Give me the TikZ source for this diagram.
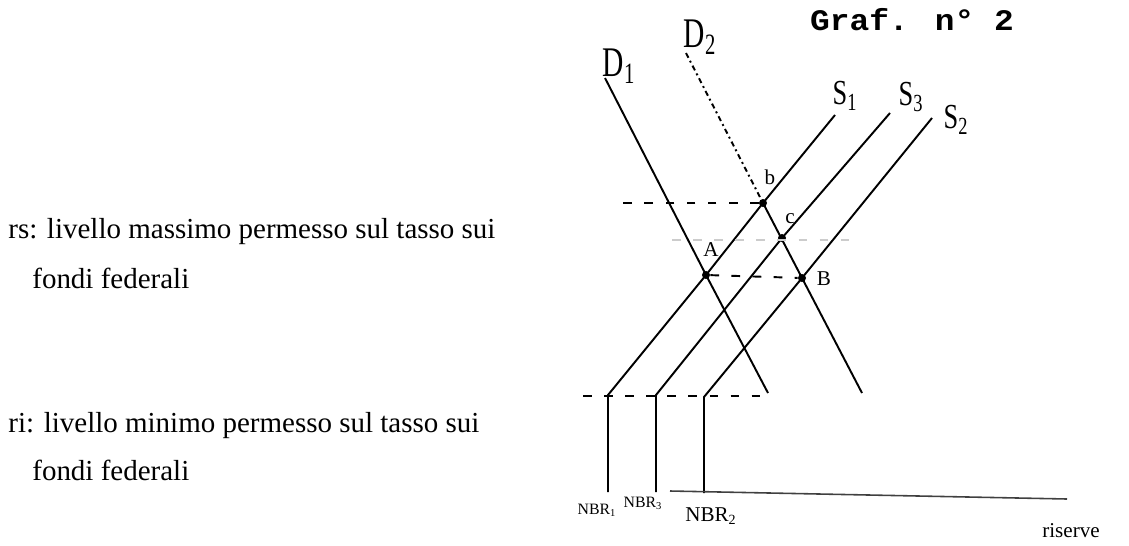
\documentclass[tikz,border=0pt]{standalone}
\usepackage{fontspec}
\setmainfont{Liberation Serif}
\newfontfamily\typefont{Liberation Mono}
\usepackage{tikz}
\usetikzlibrary{positioning}

\begin{document}
\begin{tikzpicture}[
        x=0.02cm, y=-0.02cm,
        every node/.style={inner sep=0pt},
        note/.style={anchor=base west, font=\fontsize{16.5}{20}\selectfont},
        curve/.style={line width=1.1pt},
        guide/.style={line width=1.1pt, dash pattern=on 5pt off 7pt},
        axisline/.style={line width=0.9pt, black!75},
        pt/.style={circle, fill, minimum size=0.16cm},
        hand/.style={font=\fontsize{20}{20}\selectfont},
        lbl/.style={font=\fontsize{12}{12}\selectfont}
        ]
        \useasboundingbox (0,0) rectangle (1129,545);

        % notes on the left
        \node[note] (rs) at (8,238) {rs: livello massimo permesso sul tasso sui};
        \node[note] (rsb) at (32,288) {fondi federali};
        \node[note] (ri) at (8,432) {ri: livello minimo permesso sul tasso sui};
        \node[note] (rib) at (32,480) {fondi federali};

        % equilibrium points
        \node[pt] (A) at (706,275) {};
        \node[pt] (b) at (763,203) {};
        \node[pt] (c) at (782,238) {};
        \node[pt] (B) at (802,278) {};

        % ends of the curves
        \coordinate (D1a) at (605,78);
        \coordinate (D1b) at (768,393);
        \coordinate (D2a) at (686,53);
        \coordinate (D2b) at (862,393);
        \coordinate (S1a) at (835,115);
        \coordinate (S1b) at (608,395);
        \coordinate (S3a) at (890,113);
        \coordinate (S3b) at (656,395);
        \coordinate (S2a) at (932,118);
        \coordinate (S2b) at (704,397);
        \coordinate (N1) at (608,492);
        \coordinate (N3) at (656,492);
        \coordinate (N2) at (704,493);
        \coordinate (bL) at (612,203);
        \coordinate (cL) at (672,240);
        \coordinate (cR) at (850,240);
        \coordinate (riL) at (583,396);
        \coordinate (riR) at (770,396);
        \coordinate (ax0) at (670,491);
        \coordinate (ax1) at (1067,499);

        \draw[curve] (D1a) -- (A.center) -- (D1b);
        \draw[curve, dash dot] (D2a) -- (b.center);
        \draw[curve] (b.center) -- (B.center) -- (D2b);
        \draw[curve] (S1a) -- (b.center) -- (A.center) -- (S1b) -- (N1);
        \draw[curve] (S3a) -- (c.center) -- (S3b) -- (N3);
        \draw[curve] (S2a) -- (B.center) -- (S2b) -- (N2);

        \draw[guide] (b) -- (bL);
        \draw[guide] (A) -- (B);
        \draw[guide, black!20] (cL) -- (cR);
        \draw[guide] (riL) -- (riR);
        \draw[axisline] (ax0) -- (ax1);

        % labels
        \node[font=\fontsize{17}{17}\selectfont\typefont\bfseries, anchor=base] (graf) at (912,30)
            {\scalebox{1.1}[1]{Graf. n° 2}};
        \node[hand, font=\fontsize{24}{24}\selectfont] (lD1) at (619,66) {\scalebox{0.7}[1]{D\textsubscript{1}}};
        \node[hand, font=\fontsize{24}{24}\selectfont] (lD2) at (700,37) {\scalebox{0.7}[1]{D\textsubscript{2}}};
        \node[hand] (lS1) at (845,96) {\scalebox{0.75}[1]{S\textsubscript{1}}};
        \node[hand] (lS3) at (911,97) {\scalebox{0.75}[1]{S\textsubscript{3}}};
        \node[hand] (lS2) at (956,120) {\scalebox{0.75}[1]{S\textsubscript{2}}};
        \node[lbl] (lA) at (711,250) {A};
        \node[lbl] (lB) at (824,279) {B};
        \node[lbl] (lb) at (770,177) {b};
        \node[lbl] (lc) at (790,219) {c};
        \node[font=\fontsize{9}{9}\selectfont] (n1) at (597,510) {NBR\textsubscript{1}};
        \node[font=\fontsize{9}{9}\selectfont] (n3) at (643,503) {NBR\textsubscript{3}};
        \node[font=\fontsize{12}{12}\selectfont] (n2) at (711,516) {NBR\textsubscript{2}};
        \node[font=\fontsize{12}{12}\selectfont, anchor=west] (res) at (1042,531) {riserve};
    \end{tikzpicture}
\end{document}
